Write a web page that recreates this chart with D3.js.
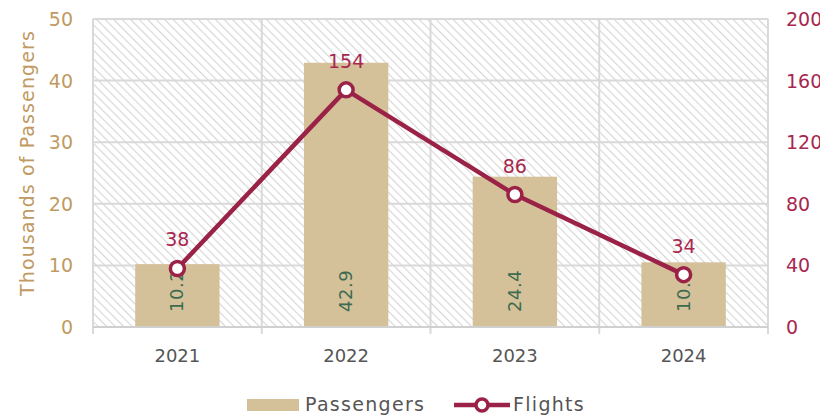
<!DOCTYPE html>
<html><head><meta charset="utf-8">
<script src="https://cdn.jsdelivr.net/npm/d3@7"></script>
<style>body{margin:0;background:#fff}svg{display:block;font-family:"DejaVu Sans","Noto Sans",sans-serif}</style>
</head><body><svg id="c" width="820" height="416"></svg>
<script>
const categories = ["2021","2022","2023","2024"];
const passengers = [10.2, 42.9, 24.4, 10.5];
const flights = [38, 154, 86, 34];
const leftTicks = [0,10,20,30,40,50];
const rightTicks = [0,40,80,120,160,200];

const W=820,H=416, m={l:93,r:52,t:19,b:89};
const svg=d3.select("#c");
const iw=W-m.l-m.r, ih=H-m.t-m.b;
const x=d3.scaleBand().domain(categories).range([m.l,m.l+iw]);
const yL=d3.scaleLinear().domain([0,50]).range([m.t+ih,m.t]);
const yR=d3.scaleLinear().domain([0,200]).range([m.t+ih,m.t]);

const defs=svg.append("defs");
const pat=defs.append("pattern").attr("id","hatch").attr("patternUnits","userSpaceOnUse")
  .attr("width",6).attr("height",6).attr("patternTransform","rotate(-45)");
pat.append("rect").attr("width",6).attr("height",6).attr("fill","#fff");
pat.append("line").attr("x1",0).attr("y1",0).attr("x2",0).attr("y2",6).attr("stroke","#d6d6d6").attr("stroke-width",2.2);

svg.append("rect").attr("x",m.l).attr("y",m.t).attr("width",iw).attr("height",ih).attr("fill","url(#hatch)");

const grid="#d9d9d9";
svg.append("g").selectAll("line").data(leftTicks.slice(1)).join("line")
  .attr("x1",m.l).attr("x2",m.l+iw).attr("y1",d=>yL(d)).attr("y2",d=>yL(d))
  .attr("stroke",grid).attr("stroke-width",2);
const bounds=categories.map(c=>x(c)).concat([x(categories[categories.length-1])+x.bandwidth()]);
svg.append("g").selectAll("line").data(bounds).join("line")
  .attr("x1",d=>d).attr("x2",d=>d).attr("y1",m.t).attr("y2",m.t+ih+7)
  .attr("stroke",grid).attr("stroke-width",2);

const bw=x.bandwidth()*0.5;
svg.append("g").selectAll("rect").data(passengers).join("rect")
  .attr("x",(d,i)=>x(categories[i])+x.bandwidth()/2-bw/2).attr("width",bw)
  .attr("y",d=>yL(d)).attr("height",d=>yL(0)-yL(d)).attr("fill","#d4c19a");

svg.append("line").attr("x1",m.l).attr("x2",m.l+iw).attr("y1",yL(0)).attr("y2",yL(0))
  .attr("stroke","#d0d0d0").attr("stroke-width",2);

svg.append("g").selectAll("text").data(passengers).join("text")
  .attr("transform",(d,i)=>`translate(${x(categories[i])+x.bandwidth()/2+6},${yL(0)-15}) rotate(-90)`)
  .attr("text-anchor","start").attr("font-size",18).attr("letter-spacing",0.5).attr("fill","#3d6b50").text(d=>d);

const lineColor="#9b2247";
const line=d3.line().x((d,i)=>x(categories[i])+x.bandwidth()/2).y(d=>yR(d));
svg.append("path").datum(flights).attr("d",line).attr("fill","none")
  .attr("stroke",lineColor).attr("stroke-width",4.5).attr("stroke-linejoin","round");
svg.append("g").selectAll("circle").data(flights).join("circle")
  .attr("cx",(d,i)=>x(categories[i])+x.bandwidth()/2).attr("cy",d=>yR(d)).attr("r",7)
  .attr("fill","#fff").attr("stroke",lineColor).attr("stroke-width",3.5);
svg.append("g").selectAll("text").data(flights).join("text")
  .attr("x",(d,i)=>x(categories[i])+x.bandwidth()/2).attr("y",d=>yR(d)-22)
  .attr("text-anchor","middle").attr("font-size",19).attr("fill","#a8274f").text(d=>d);

svg.append("g").selectAll("text").data(leftTicks).join("text")
  .attr("x",73).attr("y",d=>yL(d)+7).attr("text-anchor","end")
  .attr("font-size",19).attr("fill","#c09a62").text(d=>d);
svg.append("g").selectAll("text").data(rightTicks).join("text")
  .attr("x",786).attr("y",d=>yR(d)+7).attr("text-anchor","start")
  .attr("font-size",19).attr("fill","#a8274f").text(d=>d);
svg.append("g").selectAll("text").data(categories).join("text")
  .attr("x",d=>x(d)+x.bandwidth()/2).attr("y",362).attr("text-anchor","middle")
  .attr("font-size",18).attr("fill","#555").text(d=>d);

svg.append("text").attr("transform","translate(34,163) rotate(-90)").attr("text-anchor","middle")
  .attr("font-size",19).attr("letter-spacing",1.1).attr("fill","#c09a62").text("Thousands of Passengers");

const lg=svg.append("g");
lg.append("rect").attr("x",247).attr("y",399).attr("width",52).attr("height",12).attr("fill","#d4c19a");
lg.append("text").attr("x",305).attr("y",411).attr("font-size",19).attr("letter-spacing",1.3).attr("fill","#555").text("Passengers");
lg.append("line").attr("x1",454).attr("x2",510).attr("y1",405).attr("y2",405).attr("stroke",lineColor).attr("stroke-width",4.5);
lg.append("circle").attr("cx",482).attr("cy",405).attr("r",6).attr("fill","#fff").attr("stroke",lineColor).attr("stroke-width",3.5);
lg.append("text").attr("x",513).attr("y",411).attr("font-size",19).attr("letter-spacing",1.3).attr("fill","#555").text("Flights");
</script></body></html>
